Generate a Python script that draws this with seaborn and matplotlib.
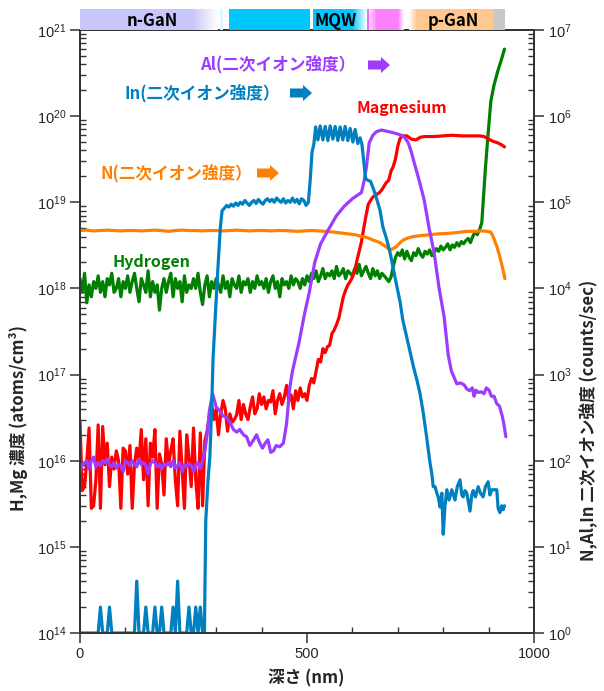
import numpy as np
import matplotlib
matplotlib.use('Agg')
import matplotlib.pyplot as plt
import seaborn as sns
from matplotlib.patches import Polygon
from matplotlib.colors import LinearSegmentedColormap
from matplotlib.ticker import LogFormatterSciNotation, NullFormatter, MultipleLocator, FixedLocator

# ---------------- data ----------------
# Hydrogen (left axis), units of 1e18 atoms/cm3, 5 nm steps 0..880, then the surface rise
h_depth_grid = np.arange(0, 885, 5)
h_vals_grid = [
    1.3, 0.9, 1.5, 0.68, 1.1, 0.8, 1.2, 1.0, 1.4, 0.9, 1.2, 0.8, 1.3, 1.1, 1.5, 0.9, 1.0, 1.3, 0.8, 1.2, 1.0,
    1.4, 0.9, 1.2, 1.5, 1.0, 0.7, 1.3, 1.1, 0.9, 1.6, 0.8, 1.2, 0.9, 1.1, 0.56, 1.0, 1.3, 0.9, 1.2, 1.5,
    0.8, 1.3, 1.0, 1.2, 0.7, 1.4, 0.9, 1.1, 1.0, 1.3, 1.0, 1.5, 0.9, 0.65, 1.1, 1.4, 0.8, 1.2, 1.0, 1.3,
    1.1, 0.9, 1.4, 1.0, 1.2, 0.8, 1.3, 1.1, 1.0, 1.4, 0.9, 1.2, 1.1, 1.3, 0.9, 1.2, 1.0, 1.4, 1.1, 1.2,
    1.0, 1.3, 0.9, 1.2, 1.4, 1.0, 1.2, 0.8, 1.3, 1.1, 1.2, 1.0, 1.4, 1.1, 1.3, 1.2, 1.0, 1.3, 1.1, 1.4,
    1.2, 1.5, 1.3, 1.6, 1.2, 1.4, 1.7, 1.3, 1.5, 1.4, 1.6, 1.3, 1.8, 1.4, 1.5, 1.7, 1.3, 1.6, 1.5, 1.4,
    1.7, 1.5, 1.9, 1.4, 1.6, 1.8, 1.5, 1.3, 1.7, 1.4, 1.6, 1.3, 1.5, 1.4, 1.3, 1.2, 1.35, 1.8, 2.3, 2.6,
    2.4, 2.8, 2.2, 2.7, 2.3, 2.1, 2.6, 2.4, 2.9, 2.5, 2.3, 2.7, 2.5, 2.8, 2.4, 2.6, 2.9, 2.7, 3.1, 2.8,
    3.0, 3.3, 2.8, 3.2, 3.0, 3.4, 3.1, 3.5, 3.3, 3.6, 3.8, 3.4, 4.0, 4.5, 4.2, 4.8,
]
h_depth_rise = [885, 888, 893, 899, 905, 912, 920, 928, 935]
h_vals_rise = [5.8, 10, 25, 63, 150, 230, 330, 450, 600]

# Magnesium (left axis), units of 1e16 atoms/cm3
mg_depth_grid = np.arange(0, 510, 5)
mg_vals_grid = [
    2.8, 0.45, 0.5, 1.0, 2.4, 0.28, 0.3, 0.6, 2.6, 0.28,
    2.5, 0.9, 1.6, 0.5, 1.1, 0.8, 1.3, 1.0, 0.28, 1.4,
    1.3, 0.7, 1.5, 0.28, 0.9, 1.4, 1.0, 2.3, 0.6, 1.8,
    0.3, 1.6, 1.1, 2.3, 0.28, 1.2, 0.9, 0.4, 1.8, 0.9,
    1.3, 1.8, 0.6, 0.3, 2.2, 0.8, 0.28, 2.0, 1.1, 0.5,
    2.4, 0.6, 0.28, 2.1, 0.3, 1.7, 2.2, 3.3, 4.5,
    3.0, 4.0, 2.0, 3.5, 5.0, 4.0, 2.2, 3.5, 2.8, 3.0,
    3.4, 5.0, 3.0, 4.5, 3.5, 3.0, 4.2, 5.5, 3.5, 4.0,
    6.0, 4.5, 5.5, 4.0, 5.0, 4.8, 6.5, 3.5, 5.0, 6.0,
    4.5, 5.5, 7.5, 5.0, 5.8, 4.0, 6.5, 5.0, 7.0, 5.5,
    6.0, 5.0, 7.5,
]
mg_depth_rise = [510, 515, 520, 525, 530, 535, 540, 545, 550, 555,
                 560, 565, 570, 575, 580, 585, 590, 595, 600, 605,
                 610, 615, 620, 625, 630, 635, 640, 645, 650, 655,
                 660, 665, 670, 675, 680, 685, 690, 695, 700, 705,
                 710, 720, 730, 740, 750, 760, 780, 800, 820, 840,
                 860, 880, 890, 900, 910, 920, 930, 935]
mg_vals_rise = [9.0, 8.0, 11, 15, 14, 20, 18, 21, 22, 30,
                33, 38, 45, 60, 80, 95, 110, 120, 135, 160,
                210, 270, 350, 500, 700, 950, 1050, 1150, 1200, 1250,
                1300, 1400, 1550, 1700, 1800, 2300, 2600, 3200, 4500, 5500,
                5900, 5900, 5400, 5300, 5700, 5800, 5800, 5900, 6000, 5900,
                5900, 5900, 5800, 5400, 5100, 4900, 4600, 4400]

# Al secondary ion intensity (right axis), counts/sec
al_depth_grid = np.arange(0, 280, 5)
al_vals_grid = [
    75, 90, 95, 100, 80, 100, 110, 85, 95, 88,
    100, 95, 105, 90, 85, 95, 82, 90, 88, 75,
    100, 95, 88, 100, 92, 85, 105, 90, 95, 88,
    70, 92, 100, 95, 85, 92, 80, 92, 88, 95,
    85, 100, 82, 88, 95, 75, 90, 85, 92, 88,
    75, 90, 95, 80, 100, 130,
]
al_depth_rest = [280, 285, 292, 300, 308, 315, 322, 330, 338, 345,
                 352, 360, 367, 374, 381, 389, 396, 402, 408, 414,
                 420, 426, 432, 440, 448, 455, 462, 468, 475, 482,
                 490, 495, 505, 517, 530, 547, 565, 582, 600, 620,
                 626, 631, 637, 645, 653, 664, 675, 686, 700, 708,
                 716, 723, 730, 736, 747, 758, 769, 780, 791, 802,
                 811, 818, 824, 830, 838, 846, 852, 858, 864, 868,
                 872, 877, 884, 890, 895, 901, 906, 912, 918, 924,
                 930, 934, 938]
al_vals_rest = [200, 380, 600, 420, 380, 330, 320, 280, 230, 215,
                230, 200, 190, 150, 170, 200, 160, 140, 160, 175,
                125, 130, 150, 145, 160, 270, 700, 1100, 1600, 2300,
                3800, 5200, 9000, 20000, 33000, 48000, 70000, 90000, 110000, 130000,
                180000, 260000, 490000, 600000, 660000, 690000, 670000, 650000, 620000, 600000,
                560000, 490000, 380000, 290000, 180000, 107000, 50000, 26000, 10000, 4700,
                1700, 1100, 930, 780, 800, 760, 680, 650, 700, 560,
                660, 620, 630, 600, 700, 660, 560, 560, 460, 430,
                330, 260, 190]

# In secondary ion intensity (right axis), counts/sec
in_depth_grid = np.arange(0, 275, 5)
in_vals_grid = [
    1, 1, 1, 1, 1, 1, 1, 1, 1, 2,
    1, 1, 1, 2, 1, 1, 1, 1, 1, 1,
    1, 1, 1, 1, 1, 4, 1, 1, 1, 2,
    1, 1, 1, 2, 1, 1, 2, 1, 1, 1,
    1, 2, 1, 4, 1, 1, 1, 1, 2, 1,
    1, 2, 1, 2, 1,
]
in_depth_rest = [274, 277, 282, 286, 290, 293, 299, 304, 309, 313,
                 318, 323, 328, 333, 338, 343, 348, 353, 358, 363,
                 368, 373, 378, 383, 388, 393, 398, 403, 408, 413,
                 418, 423, 428, 433, 438, 443, 448, 453, 458, 463,
                 468, 473, 478, 483, 488, 493, 498, 503, 507, 511,
                 515, 519, 524, 529, 535, 540, 546, 551, 557, 562,
                 568, 573, 579, 584, 590, 595, 601, 606, 612, 617,
                 621, 625, 629, 634, 640, 647, 654, 661, 667, 675,
                 683, 690, 698, 705, 711, 719, 727, 735, 742, 749,
                 756, 764, 771, 775, 778, 782, 786, 789, 793, 797,
                 800, 804, 808, 813, 819, 826, 831, 837, 841, 844,
                 848, 852, 859, 863, 866, 871, 877, 882, 888, 893,
                 899, 903, 907, 912, 918, 921, 925, 929, 932, 935]
in_vals_rest = [1, 20, 60, 110, 400, 1500, 6000, 18000, 50000, 80000,
                85000, 92000, 88000, 95000, 90000, 98000, 92000, 100000, 95000, 105000,
                98000, 92000, 100000, 105000, 97000, 108000, 100000, 95000, 105000, 110000,
                102000, 108000, 100000, 112000, 105000, 100000, 110000, 98000, 105000, 100000,
                112000, 100000, 108000, 96000, 110000, 105000, 92000, 100000, 180000, 380000,
                470000, 750000, 530000, 770000, 530000, 760000, 520000, 770000, 540000, 760000,
                520000, 750000, 530000, 760000, 520000, 720000, 500000, 700000, 480000, 560000,
                470000, 300000, 190000, 180000, 175000, 140000, 107000, 80000, 52000, 38000,
                26000, 17000, 10500, 7000, 4300, 2800, 1800, 1200, 870, 600,
                360, 180, 94, 70, 50, 50, 42, 38, 29, 42,
                14, 30, 46, 35, 46, 35, 50, 60, 40, 38,
                45, 42, 26, 40, 45, 38, 50, 42, 38, 50,
                57, 40, 46, 46, 46, 28, 25, 30, 27, 30]

# N secondary ion intensity (right axis), counts/sec
n_depth = list(range(0, 541, 15)) + [
    560, 575, 590, 605, 623, 635, 645, 655, 661, 668,
    676, 683, 690, 698, 705, 712, 722, 734, 750, 770,
    790, 810, 830, 852, 870, 885, 896, 905, 910, 914,
    918, 925, 930, 936]
n_vals = [47000, 47500, 46500, 47000, 47500, 47000, 46500, 47000, 47000, 46500,
          47000, 47500, 47000, 46000, 47000, 47500, 47000, 47000, 46500, 47000,
          47000, 46500, 47000, 47500, 47000, 46500, 47000, 47000, 46500, 47000,
          47000, 46500, 46000, 46500, 47000, 46500, 46000,
          45000, 44000, 43000, 42000, 40000, 38500, 36500, 35000, 34000, 32000,
          30000, 28000, 29000, 31000, 34000, 36500, 38500, 40000, 41000, 42000,
          43000, 43500, 44500, 46000, 46000, 46500, 46000, 45000, 40000, 35000,
          31000, 23000, 18000, 13000]

x_ticks = [0, 500, 1000]
left_decades = [1e14, 1e15, 1e16, 1e17, 1e18, 1e19, 1e20, 1e21]
right_decades = [1e0, 1e1, 1e2, 1e3, 1e4, 1e5, 1e6, 1e7]
layer_names = ['n-GaN', 'MQW', 'p-GaN']
layer_label_pos = [160, 562, 822]

# ---------------- style ----------------
sns.set_style('ticks')
plt.rcParams['font.family'] = ['Liberation Sans', 'DejaVu Sans']
plt.rcParams['mathtext.default'] = 'regular'
JP = ['Noto Sans CJK JP', 'DejaVu Sans']

C_H = '#008000'
C_MG = '#ff0000'
C_AL = '#9b3cff'
C_IN = '#0080c0'
C_N = '#ff8000'

W, H = 604, 691
fig = plt.figure(figsize=(W / 100, H / 100), dpi=100)
L, R, T, B = 80, 534, 30, 633
ax = fig.add_axes([L / W, 1 - B / H, (R - L) / W, (B - T) / H])
ax2 = ax.twinx()
ax.set_yscale('log')
ax2.set_yscale('log')

lw = 2.3
h_x = np.concatenate([h_depth_grid, h_depth_rise])
h_y = np.concatenate([h_vals_grid, h_vals_rise]) * 1e18
mg_x = np.concatenate([mg_depth_grid, mg_depth_rise])
mg_y = np.concatenate([mg_vals_grid, mg_vals_rise]) * 1e16
al_x = np.concatenate([al_depth_grid, al_depth_rest])
al_y = np.concatenate([al_vals_grid, al_vals_rest])
in_x = np.concatenate([in_depth_grid, in_depth_rest])
in_y = np.concatenate([in_vals_grid, in_vals_rest])

sns.lineplot(x=h_x, y=h_y, ax=ax, color=C_H, linewidth=lw, estimator=None, sort=False)
sns.lineplot(x=mg_x, y=mg_y, ax=ax, color=C_MG, linewidth=lw, estimator=None, sort=False)
sns.lineplot(x=np.array(n_depth), y=np.array(n_vals), ax=ax2, color=C_N, linewidth=lw, estimator=None, sort=False)
sns.lineplot(x=al_x, y=al_y, ax=ax2, color=C_AL, linewidth=lw, estimator=None, sort=False)
sns.lineplot(x=in_x, y=in_y, ax=ax2, color=C_IN, linewidth=lw, estimator=None, sort=False)

ax.set_xlim(0, 1000)
ax.set_ylim(1e14, 1e21)
ax2.set_ylim(1e0, 1e7)
for a in (ax, ax2):
    a.set_xlabel('')
    a.set_ylabel('')
    a.xaxis.label.set_visible(False)
    a.yaxis.label.set_visible(False)
    a.xaxis.offsetText.set_visible(False)
    a.yaxis.offsetText.set_visible(False)

def minor_in(decades):
    return [d * k for d in decades[:-1] for k in range(2, 10)]

for a, dec in ((ax, left_decades), (ax2, right_decades)):
    a.yaxis.set_major_locator(FixedLocator(dec))
    a.yaxis.set_minor_locator(FixedLocator(minor_in(dec)))
    a.yaxis.set_minor_formatter(NullFormatter())
    a.yaxis.set_major_formatter(LogFormatterSciNotation())
ax.xaxis.set_major_locator(FixedLocator(x_ticks))
ax.xaxis.set_minor_locator(FixedLocator([100, 200, 300, 400, 600, 700, 800, 900]))
ax.xaxis.set_minor_formatter(NullFormatter())

ax.tick_params(axis='both', which='major', direction='out', length=7, width=1.1, labelsize=10.5, color='#333333', pad=3)
ax.tick_params(axis='both', which='minor', direction='in', length=4, width=1.0, color='#333333')
ax.tick_params(axis='x', which='both', top=False)
ax2.tick_params(axis='y', which='major', direction='out', length=7, width=1.1, labelsize=10.5, color='#333333', pad=3)
ax2.tick_params(axis='y', which='minor', direction='in', length=4, width=1.0, color='#333333')
for a in (ax, ax2):
    for s in a.spines.values():
        s.set_color('#333333')
        s.set_linewidth(1.3)

# axis labels
fig.text(306 / W, 1 - 678 / H, '深さ (nm)', ha='center', va='center', fontsize=12, fontweight='bold', family=JP)
fig.text(19 / W, 1 - 418 / H, 'H,Mg 濃度 (atoms/cm³)', rotation=90, ha='center', va='center',
         fontsize=12, fontweight='bold', family=JP)
fig.text(589 / W, 1 - 420 / H, 'N,Al,In 二次イオン強度 (counts/sec)', rotation=90, ha='center', va='center',
         fontsize=12, fontweight='bold', family=JP)

# annotations
def px(x, y):
    return (x / W, 1 - y / H)

def block_arrow(x0, x1, yc, color):
    hl, th, hh = 9, 4.5, 8
    verts = [px(x0, yc - th), px(x1 - hl, yc - th), px(x1 - hl, yc - hh), px(x1, yc),
             px(x1 - hl, yc + hh), px(x1 - hl, yc + th), px(x0, yc + th)]
    fig.add_artist(Polygon(verts, closed=True, transform=fig.transFigure, facecolor=color, edgecolor='none'))

ann_fs = 12
fig.text(*px(200, 65), 'Al(二次イオン強度）', color=C_AL, fontsize=ann_fs, fontweight='bold', family=JP, va='center')
block_arrow(368, 390, 65, C_AL)
fig.text(*px(125, 94), 'In(二次イオン強度）', color=C_IN, fontsize=ann_fs, fontweight='bold', family=JP, va='center')
block_arrow(290, 312, 93, C_IN)
fig.text(*px(357, 108), 'Magnesium', color=C_MG, fontsize=11.5, fontweight='bold', family=JP, va='center')
fig.text(*px(100, 174), 'N(二次イオン強度）', color=C_N, fontsize=ann_fs, fontweight='bold', family=JP, va='center')
block_arrow(257, 279, 173, C_N)
fig.text(*px(112, 262), 'Hydrogen', color=C_H, fontsize=11.5, fontweight='bold', family=JP, va='center')

# layer band above the plot
bax = fig.add_axes([L / W, 1 - 30 / H, (R - L) / W, 21 / H])
bax.set_xlim(0, 1000)
bax.set_ylim(0, 1)
bax.axis('off')

def grad(x0, x1, c0, c1):
    cmap = LinearSegmentedColormap.from_list('g', [c0, c1])
    bax.imshow(np.linspace(0, 1, 64)[None, :], extent=[x0, x1, 0, 1], aspect='auto', cmap=cmap,
               interpolation='bilinear')

LAV, CY, PK, OR, GR = '#c8c6fa', '#00c8ff', '#ff80ff', '#ffc890', '#c8c8c8'
bax.axvspan(0, 247, color=LAV, lw=0)
grad(247, 304, LAV, '#ffffff')
bax.axvspan(308, 315, color='#e0f6ff', lw=0)
bax.axvspan(328, 507, color=CY, lw=0)
bax.axvspan(513, 600, color=CY, lw=0)
grad(600, 632, CY, '#ffffff')
bax.axvspan(632, 636, color='#ff60ff', lw=0)
grad(636, 652, '#ffe0ff', PK)
bax.axvspan(652, 700, color=PK, lw=0)
grad(700, 712, PK, '#ffffff')
grad(725, 742, '#ffffff', OR)
bax.axvspan(742, 910, color=OR, lw=0)
bax.axvspan(910, 937, color=GR, lw=0)
for name, xpos in zip(layer_names, layer_label_pos):
    bax.text(xpos, 0.42, name, ha='center', va='center', fontsize=12, fontweight='bold', family=JP, color='black')
bax.set_xlim(0, 1000)
bax.set_ylim(0, 1)

fig.savefig('out.png', dpi=100)
